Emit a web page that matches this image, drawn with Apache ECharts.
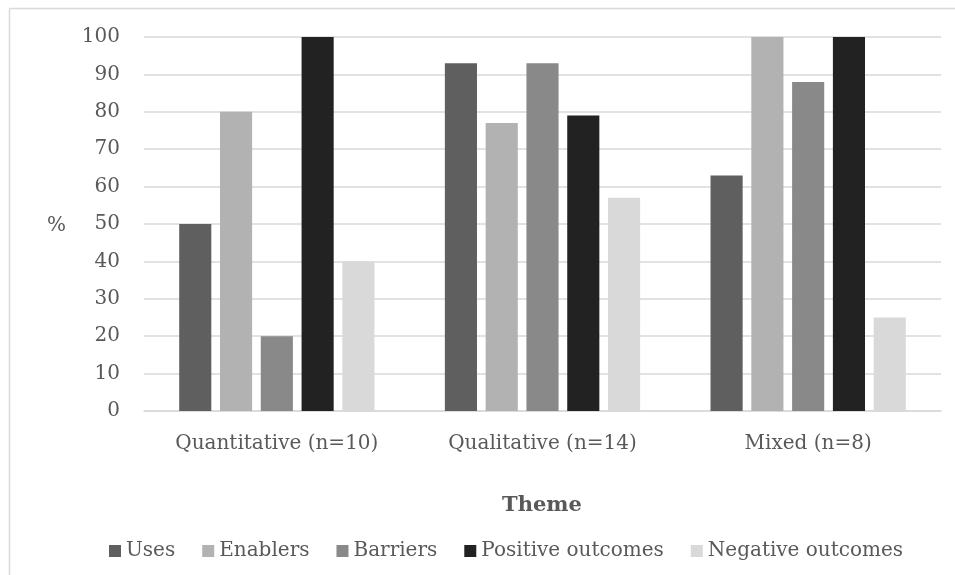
<!DOCTYPE html>
<html><head><meta charset="utf-8">
<script src="https://cdn.jsdelivr.net/npm/echarts@6/dist/echarts.min.js"></script>
<style>html,body{margin:0;padding:0;background:#fff}#c{width:955px;height:575px}</style>
</head><body><div id="c"></div>
<script>
var categories = ['Quantitative (n=10)', 'Qualitative (n=14)', 'Mixed (n=8)'];
var seriesNames = ['Uses', 'Enablers', 'Barriers', 'Positive outcomes', 'Negative outcomes'];
var uses = [50, 93, 63];
var enablers = [80, 77, 100];
var barriers = [20, 93, 88];
var positive = [100, 79, 100];
var negative = [40, 57, 25];
var colors = ['#5f5f5f', '#b2b2b2', '#898989', '#222222', '#d9d9d9'];
var yTicks = [0, 10, 20, 30, 40, 50, 60, 70, 80, 90, 100];

var font = 'DejaVu Serif';
var chart = echarts.init(document.getElementById('c'));
var values = [uses, enablers, barriers, positive, negative];
chart.setOption({
  animation: false,
  textStyle: {fontFamily: font},
  graphic: [
    {type: 'line', shape: {x1: 9.5, y1: 8.5, x2: 955, y2: 8.5}, style: {stroke: '#d9d9d9', lineWidth: 1.5}},
    {type: 'line', shape: {x1: 9.5, y1: 8.5, x2: 9.5, y2: 575}, style: {stroke: '#d9d9d9', lineWidth: 1.5}},
    {type: 'text', x: 47, y: 216, style: {text: '%', font: '20px "' + font + '"', fill: '#595959'}},
    {type: 'text', x: 542, y: 506, style: {text: 'Theme', font: 'bold 21px "' + font + '"', fill: '#595959', align: 'center', verticalAlign: 'middle'}}
  ],
  legend: {
    data: seriesNames,
    top: 536,
    left: 104,
    icon: 'rect',
    itemWidth: 12,
    itemHeight: 12,
    itemGap: 27,
    textStyle: {fontFamily: font, fontSize: 20, color: '#595959'}
  },
  grid: {left: 144, right: 14, top: 37, bottom: 164},
  xAxis: {
    type: 'category',
    data: categories,
    axisLine: {lineStyle: {color: '#d9d9d9', width: 1.5}},
    axisTick: {show: false},
    axisLabel: {fontFamily: font, fontSize: 20, color: '#595959', margin: 23}
  },
  yAxis: {
    type: 'value',
    min: 0, max: 100, interval: 10,
    axisLine: {show: false},
    axisTick: {show: false},
    splitLine: {lineStyle: {color: '#d9d9d9', width: 1.5}},
    axisLabel: {fontFamily: font, fontSize: 20, color: '#595959', margin: 24}
  },
  series: seriesNames.map(function (n, i) {
    return {
      name: n, type: 'bar', data: values[i],
      barGap: '27%', barCategoryGap: '26.5%',
      itemStyle: {color: colors[i]}
    };
  })
});
</script></body></html>
